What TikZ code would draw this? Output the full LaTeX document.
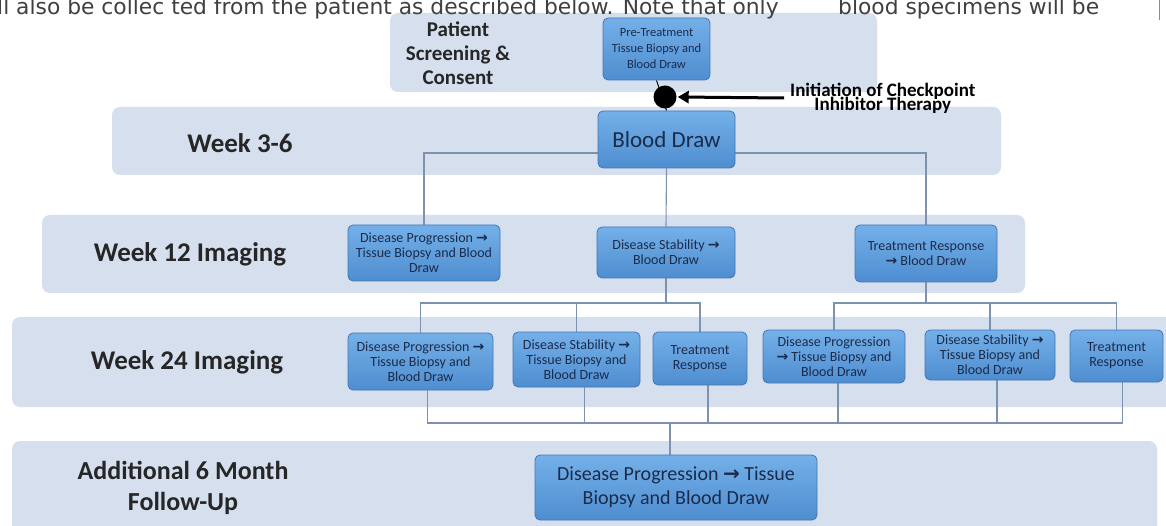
\documentclass[tikz,border=0pt]{standalone}
\usepackage{fontspec}
\setmainfont{Carlito}
\newfontfamily\dejavu{DejaVu Sans}
\usetikzlibrary{arrows.meta,calc}
\definecolor{band}{HTML}{D6DFEE}
\definecolor{nodetop}{HTML}{74B0E8}
\definecolor{nodebot}{HTML}{4E8DD0}
\definecolor{nodeborder}{HTML}{4277B5}
\definecolor{ntext}{HTML}{1B2B4B}
\definecolor{conn}{HTML}{7D92AE}
\newcommand{\rarr}{{\dejavu\bfseries →}}
\pgfdeclarelayer{bandlayer}
\pgfdeclarelayer{connlayer}
\pgfsetlayers{bandlayer,connlayer,main}
\tikzset{
  bandbox/.style={fill=band, rounded corners=8pt, draw=none},
  box/.style={draw=nodeborder, line width=0.8pt, rounded corners=5pt, top color=nodetop, bottom color=nodebot, text=ntext, align=center, inner sep=2pt},
  smallbox/.style={box, font=\fontsize{14}{15}\selectfont},
  lab/.style={font=\fontsize{27}{32}\selectfont\bfseries, text=black!85, align=center, inner sep=0pt},
  conn/.style={draw=conn, line width=1.1pt},
  toptext/.style={anchor=base west, font=\dejavu\fontsize{21.8}{22}\selectfont, text=black!75, inner sep=0pt},
}
\begin{document}
\begin{tikzpicture}[x=1pt,y=-1pt]
\useasboundingbox (0,0) rectangle (1166,526);
\clip (0,0) rectangle (1166,526);
\begin{pgfonlayer}{bandlayer}
\fill[white] (0,0) rectangle (1166,526);
\fill[bandbox] (390,13) rectangle (877,92);
\fill[bandbox] (112,107) rectangle (1001,175);
\fill[bandbox] (42,215) rectangle (1025,293);
\fill[bandbox] (12,317) rectangle (1180,407);
\fill[bandbox] (12,441) rectangle (1157,540);
\end{pgfonlayer}

% clipped running text at the top
\node[toptext] (t1) at (-3,15) {ll also be collec ted from the patient as described below. Note that only};
\node[toptext] (t2) at (838,15) {blood specimens will be};
\draw[black!45, line width=1pt] (1159,0) -- (1159,20);

% row labels
\node[lab, font=\fontsize{21}{24}\selectfont\bfseries] (lp) at (458,53) {Patient\\Screening \&\\Consent};
\node[lab] (l1) at (240,143) {Week 3-6};
\node[lab] (l2) at (190,254) {Week 12 Imaging};
\node[lab] (l3) at (187,362) {Week 24 Imaging};
\node[lab, font=\fontsize{26}{31}\selectfont\bfseries] (l4) at (183,488) {Additional 6 Month\\Follow-Up};

% boxes
\node[box, font=\fontsize{12.5}{16}\selectfont, minimum width=107pt, minimum height=62pt] (pre) at (656.5,49) {Pre-Treatment\\Tissue Biopsy and\\Blood Draw};
\node[circle, fill=black, minimum size=23pt, inner sep=0pt] (dot) at (665,97) {};
\node[box, font=\fontsize{23}{26}\selectfont, minimum width=137pt, minimum height=57pt] (bd) at (666.5,139.5) {Blood Draw};

\node[smallbox, minimum width=152pt, minimum height=56pt] (n1) at (424,253) {Disease Progression \rarr\\Tissue Biopsy and Blood\\Draw};
\node[smallbox, minimum width=138pt, minimum height=51pt] (n2) at (666,252.5) {Disease Stability \rarr\\Blood Draw};
\node[smallbox, minimum width=142pt, minimum height=57pt] (n3) at (926,253.5) {Treatment Response\\\rarr{} Blood Draw};

\node[smallbox, minimum width=145pt, minimum height=57pt] (m1) at (420.5,361.5) {Disease Progression \rarr\\Tissue Biopsy and\\Blood Draw};
\node[smallbox, minimum width=127pt, minimum height=55pt] (m2) at (576.5,359.5) {Disease Stability \rarr\\Tissue Biopsy and\\Blood Draw};
\node[smallbox, minimum width=94pt, minimum height=53pt] (m3) at (700,358.5) {Treatment\\Response};
\node[smallbox, minimum width=142pt, minimum height=53pt] (m4) at (834,356.5) {Disease Progression\\\rarr{} Tissue Biopsy and\\Blood Draw};
\node[smallbox, minimum width=130pt, minimum height=50pt] (m5) at (990,355) {Disease Stability \rarr\\Tissue Biopsy and\\Blood Draw};
\node[smallbox, minimum width=93pt, minimum height=52pt] (m6) at (1116.5,356) {Treatment\\Response};

\node[box, font=\fontsize{20}{24}\selectfont, minimum width=282pt, minimum height=65pt] (fin) at (676,487.5) {Disease Progression \rarr{} Tissue\\Biopsy and Blood Draw};

% arrow label (the two lines sit very close, as in the source)
\node[anchor=west, align=center, font=\fontsize{19}{19}\selectfont\bfseries, inner sep=0pt] (init) at (790,98) {Initiation of Checkpoint\\[-5pt]Inhibitor Therapy};

% connectors
\coordinate (j1) at (666,153);
\coordinate (j2) at (666,303);
\coordinate (j3) at (926,303);
\coordinate (j4) at (670,423);
\begin{pgfonlayer}{connlayer}
\draw[black, line width=1pt] (pre.south) -- (bd.north);
\draw[conn] (n1.north) |- (j1) -| (n3.north);
\draw[conn] (bd.south) -- (n2.north);
\draw[conn] (n2.south) -- (j2);
\draw[conn] (m1.north) |- (m3.north |- j2) -- (m3.north);
\draw[conn] (m2.north) -- (m2.north |- j2);
\draw[conn] (n3.south) -- (j3);
\draw[conn] (m4.north) |- (m6.north |- j3) -- (m6.north);
\draw[conn] (m5.north) -- (m5.north |- j3);
\draw[conn] ([xshift=7pt]m1.south) |- ([xshift=6pt]m6.south |- j4) -- ([xshift=6pt]m6.south);
\draw[conn] ([xshift=8pt]m2.south) -- ([xshift=8pt]m2.south |- j4);
\draw[conn] ([xshift=8pt]m3.south) -- ([xshift=8pt]m3.south |- j4);
\draw[conn] ([xshift=4pt]m4.south) -- ([xshift=4pt]m4.south |- j4);
\draw[conn] ([xshift=7pt]m5.south) -- ([xshift=7pt]m5.south |- j4);
\draw[conn] (j4) -- (fin.north -| j4);
\end{pgfonlayer}
\draw[line width=3pt, -{Triangle[length=11pt,width=12pt]}] ([xshift=-6pt]init.west) -- ([xshift=1pt]dot.east);
\end{tikzpicture}
\end{document}
